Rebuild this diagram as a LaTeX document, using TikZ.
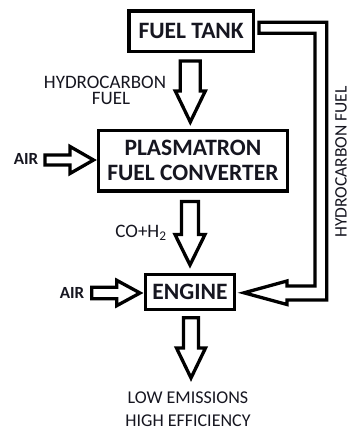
\documentclass[tikz,border=0pt]{standalone}
\usepackage{fontspec}
\setmainfont{Carlito}
\definecolor{txt}{RGB}{22,22,32}
\newcommand{\vblockarrow}[6]{% cx, top, base, tip, shaft half, head half
  \draw[blockarrow] ({#1-#5},#2) -- ({#1+#5},#2) -- ({#1+#5},#3) -- ({#1+#6},#3) -- (#1,#4) -- ({#1-#6},#3) -- ({#1-#5},#3) -- cycle;}
\newcommand{\hblockarrow}[6]{% cy, left, base, tip, shaft half, head half
  \draw[blockarrow] (#2,{#1-#5}) -- (#3,{#1-#5}) -- (#3,{#1-#6}) -- (#4,#1) -- (#3,{#1+#6}) -- (#3,{#1+#5}) -- (#2,{#1+#5}) -- cycle;}
\begin{document}
\begin{tikzpicture}[x=1pt,y=-1pt,
  box/.style={draw=black, line width=3.4pt, inner sep=0pt, text=txt, font=\bfseries\fontsize{23.5}{28}\selectfont, align=center},
  blockarrow/.style={draw=black, line width=3.3pt, line join=miter, miter limit=10},
  lbl/.style={text=txt, font=\fontsize{19}{22}\selectfont, inner sep=0pt, align=center},
  airlbl/.style={text=txt, font=\bfseries\fontsize{17}{19}\selectfont, inner sep=0pt}]
\useasboundingbox[fill=white] (0,0) rectangle (350,428);
% boxes
\node[box, minimum width=124.3pt, minimum height=40.5pt] (tank) at (191.2,31.3) {FUEL TANK};
\node[box, minimum width=189.2pt, minimum height=60.5pt] (plasm) at (192.9,160.7) {PLASMATRON\\[-3pt]FUEL CONVERTER};
\node[box, minimum width=89.2pt, minimum height=34.6pt] (engine) at (189.9,292) {ENGINE};
% block arrows
\vblockarrow{190.3}{61}{91}{122}{10}{15}
\vblockarrow{190}{201.5}{234.5}{265}{8.5}{15}
\vblockarrow{191}{317.7}{348}{378}{7.5}{14.5}
\hblockarrow{160}{45}{70}{93.5}{5}{13.5}
\hblockarrow{293}{91.7}{116.7}{140}{5.7}{12.7}
% pipe from tank to engine
\draw[blockarrow] (259,22.3) -- (326.7,22.3) -- (326.7,300) -- (287,300) -- (287,304.5) -- (244,292.8) -- (287,281) -- (287,286) -- (315,286) -- (315,33.3) -- (259,33.3) -- cycle;
% labels
\node[lbl, font=\fontsize{19}{16.5}\selectfont] (hcf) at (105,90.5) {HYDROCARBON\\\hspace*{12pt}FUEL};
\node[lbl] (coh) at (141,233) {CO+H\textsubscript{2}};
\node[lbl, font=\fontsize{17.5}{20}\selectfont, rotate=90] (hcv) at (341,162) {HYDROCARBON FUEL};
\node[airlbl] (air1) at (26,159) {AIR};
\node[airlbl] (air2) at (72,293) {AIR};
\node[lbl, font=\fontsize{18}{23.5}\selectfont] (out) at (188,409) {LOW EMISSIONS\\HIGH EFFICIENCY};
\end{tikzpicture}
\end{document}
